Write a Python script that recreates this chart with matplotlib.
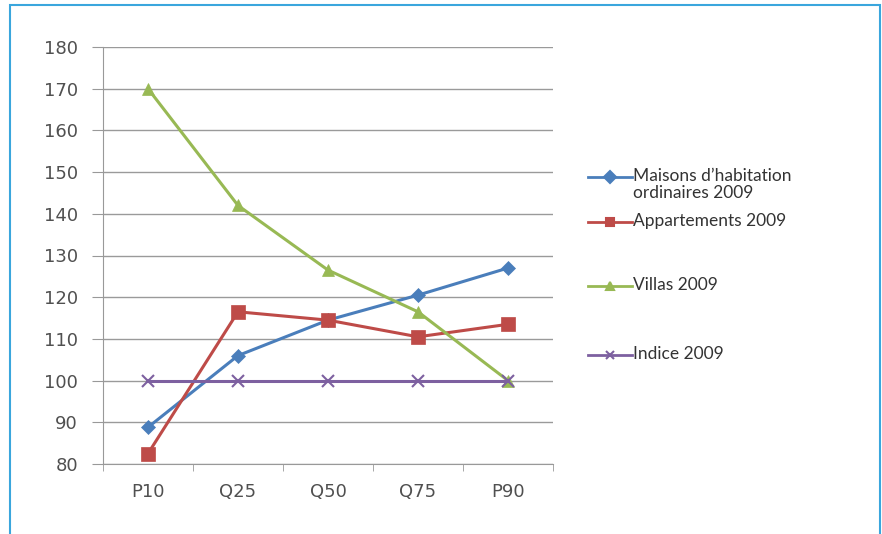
import matplotlib
matplotlib.use("Agg")
import matplotlib.pyplot as plt
from matplotlib.lines import Line2D
from matplotlib.patches import Rectangle

categories = ["P10", "Q25", "Q50", "Q75", "P90"]
maisons = [88.8, 106, 114.5, 120.5, 127]
appartements = [82.5, 116.5, 114.5, 110.5, 113.5]
villas = [170, 142, 126.5, 116.5, 100]
indice = [100, 100, 100, 100, 100]

labels = ["Maisons d\u2019habitation\nordinaires 2009", "Appartements 2009",
          "Villas 2009", "Indice 2009"]
colors = ["#4A7EBB", "#BE4B48", "#98B954", "#7D60A0"]
markers = ["D", "s", "^", "x"]
msizes = [7, 10, 9, 9]

W, H = 882, 534
fig = plt.figure(figsize=(W / 100, H / 100), dpi=100)
fig.patch.set_facecolor("white")

ax = fig.add_axes([103 / W, 1 - 464 / H, 450 / W, 417 / H])
x = list(range(len(categories)))
for vals, c, m, ms in zip([maisons, appartements, villas, indice], colors, markers, msizes):
    ax.plot(x, vals, color=c, marker=m, markersize=ms, linewidth=2.2,
            markeredgewidth=1.5 if m == "x" else 0.5, markeredgecolor=c)

ax.set_xlim(-0.5, 4.5)
ax.set_ylim(80, 180)
ax.set_yticks(range(80, 181, 10))
ax.set_xticks(x)
ax.set_xticklabels(categories)
ax.set_xticks([i - 0.5 for i in range(6)], minor=True)
ax.tick_params(axis="x", which="major", length=0, pad=14, labelsize=13, labelcolor="#505050")
ax.tick_params(axis="x", which="minor", length=5, color="#999999")
ax.tick_params(axis="y", length=8, color="#999999", labelsize=13, labelcolor="#505050", pad=10)
ax.grid(axis="y", color="#9a9a9a", linewidth=1)
ax.set_axisbelow(True)
for s in ["top", "right"]:
    ax.spines[s].set_visible(False)
for s in ["left", "bottom"]:
    ax.spines[s].set_color("#999999")

# legend drawn by hand
ys = [177, 222, 286, 355]
for lab, c, m, y in zip(labels, colors, markers, ys):
    fy = 1 - y / H
    fig.add_artist(Line2D([588 / W, 632 / W], [fy, fy], color=c, linewidth=2))
    fig.add_artist(Line2D([610 / W], [fy], color=c, marker=m, markersize=6,
                          markeredgecolor=c, markeredgewidth=1.5))
    fig.text(633 / W, fy + 9 / H, lab, ha="left", va="top", fontsize=12.5,
             family="Lato", color="#333333", linespacing=1.1)

# frame
fig.add_artist(Rectangle((10 / W, -0.01), 870 / W, 1 - 5 / H + 0.01, transform=fig.transFigure,
                         fill=False, edgecolor="#3AA6DD", linewidth=1.5))

fig.savefig("out.png", dpi=100)
